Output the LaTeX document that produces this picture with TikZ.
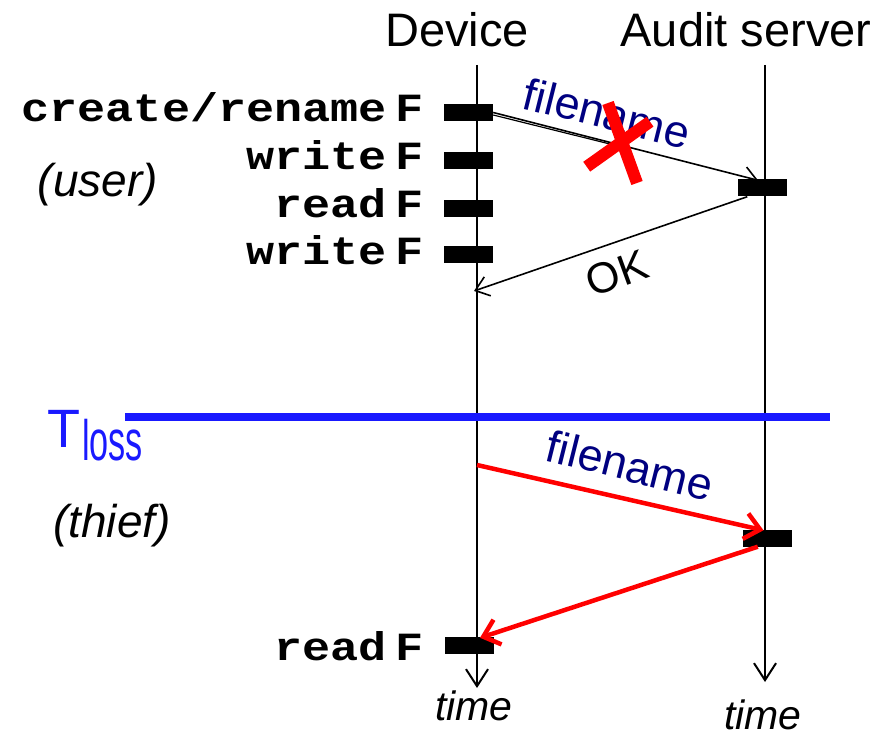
\documentclass[tikz,border=0pt]{standalone}
\usepackage{fontspec}
\usepackage{graphicx}
\setmainfont{Liberation Sans}
\newfontfamily\codefont[FakeStretch=1.17]{Liberation Mono}
\usetikzlibrary{arrows.meta}
\definecolor{navyblue}{RGB}{0,0,128}
\definecolor{lossblue}{RGB}{25,25,255}
\definecolor{alertred}{RGB}{255,0,0}

\begin{document}
\begin{tikzpicture}[x=1pt,y=-1pt,
  lifeline/.style={line width=2pt,-{Straight Barb[length=17pt,width=22pt]}},
  bar/.style={fill=black,draw=none,minimum width=49pt,minimum height=17pt,inner sep=0pt},
  hdr/.style={font=\fontsize{47}{50}\selectfont,anchor=base,inner sep=0pt},
  op/.style={font=\codefont\bfseries\fontsize{40}{44}\selectfont,anchor=base east,inner sep=0pt},
  role/.style={font=\itshape\fontsize{46}{50}\selectfont,anchor=base,inner sep=0pt},
  timelbl/.style={font=\itshape\fontsize{41}{44}\selectfont,anchor=base,inner sep=0pt},
  msglbl/.style={font=\fontsize{45}{48}\selectfont,text=navyblue,inner sep=0pt},
  msg/.style={line width=1.6pt,-{Straight Barb[length=13pt,width=20pt]}},
  thiefmsg/.style={line width=4.5pt,alertred,-{Straight Barb[length=15pt,width=26pt]}},
  cross/.style={line width=12pt,alertred},
  lossline/.style={line width=8pt,lossblue}
]
\useasboundingbox (0,0) rectangle (893,735);

% column headings
\node[hdr] (devhdr) at (457,47) {Device};
\node[hdr] (srvhdr) at (746,47) {Audit server};

% lifelines
\coordinate (devtop) at (477,65);
\coordinate (devend) at (477,688);
\coordinate (srvtop) at (765,65);
\coordinate (srvend) at (765,682);
\draw[lifeline] (devtop) -- (devend);
\draw[lifeline] (srvtop) -- (srvend);

% activity bars on the device
\node[bar] (d1) at (468.5,112.5) {};
\node[bar] (d2) at (468.5,160.5) {};
\node[bar] (d3) at (468.5,208.5) {};
\node[bar] (d4) at (468.5,254.5) {};
\node[bar] (d5) at (469,645.5) {};
% activity bars on the server
\node[bar] (s1) at (762,188) {};
\node[bar] (s2) at (767.5,538) {};

% file operations
\node[op] (op1) at (424,122) {create/rename\hspace{9pt}F};
\node[op] (op2) at (424,170) {write\hspace{9pt}F};
\node[op] (op3) at (424,218) {read\hspace{9pt}F};
\node[op] (op4) at (424,264) {write\hspace{9pt}F};
\node[op] (op5) at (424,660) {read\hspace{9pt}F};

% roles
\node[role] (user) at (98,197) {(user)};
\node[role] (thief) at (112,537) {(thief)};

% time axis labels
\node[timelbl] (tdev) at (474,720) {time};
\node[timelbl] (tsrv) at (763,729) {time};

% user phase: filename sent, OK returned
\coordinate (lostpt) at (622,147);
\coordinate (okend) at (474,291);
\draw[msg] (d1.east) -- ([xshift=-4pt,yshift=-1pt]s1.north);
\draw[line width=1.2pt] ([yshift=-2.5pt]d1.east) -- (lostpt);
\draw[msg] ([xshift=10pt]s1.south west) -- (okend);
\node[msglbl,rotate=-14] (fn1) at (607,113) {filename};
\node[font=\fontsize{43}{46}\selectfont,inner sep=0pt,rotate=20] (ok) at (617,273) {OK};

% lost message marker
\draw[cross] (586.7,166.7) -- (650,121.7);
\draw[cross] (608,103) -- (637,183);

% time of loss
\coordinate (lossL) at (125,417);
\coordinate (lossR) at (830,417);
\draw[lossline] (lossL) -- (lossR);
\node[font=\fontsize{54}{56}\selectfont,text=lossblue,anchor=base west,inner sep=0pt] (tl) at (47,447) {T};
\node[font=\fontsize{57}{60}\selectfont,text=lossblue,anchor=base west,inner sep=0pt] (tsub) at (82,460) {\scalebox{0.6}[1]{loss}};

% thief phase
\coordinate (thstart) at (477,465);
\draw[thiefmsg] (thstart) -- ([xshift=-4pt,yshift=-1pt]s2.north);
\draw[thiefmsg] ([xshift=15pt]s2.south west) -- ([xshift=11pt,yshift=-1pt]d5.north);
\node[msglbl,rotate=-14] (fn2) at (630,465) {filename};
\end{tikzpicture}
\end{document}
